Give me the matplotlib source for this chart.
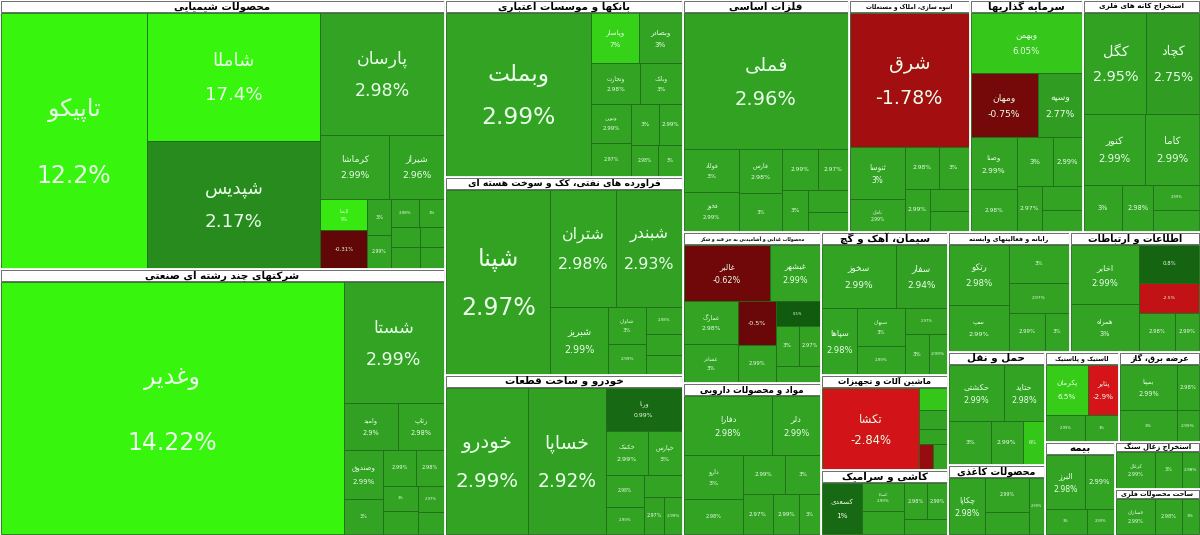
import matplotlib
matplotlib.use("Agg")
import matplotlib.pyplot as plt
from matplotlib.patches import Rectangle
import numpy as np

# ---- data -------------------------------------------------------------
sector_names = [
    "شرکتهای چند رشته ای صنعتی", "محصولات شیمیایی", "بانکها و موسسات اعتباری",
    "فراورده های نفتی، کک و سوخت هسته ای", "خودرو و ساخت قطعات", "فلزات اساسی",
    "انبوه سازی، املاک و مستغلات", "سرمایه گذاریها", "استخراج کانه های فلزی",
    "محصولات غذایی و آشامیدنی به جز قند و شکر", "مواد و محصولات دارویی",
    "سیمان، آهک و گچ", "ماشین آلات و تجهیزات", "کاشی و سرامیک",
    "رایانه و فعالیتهای وابسته", "اطلاعات و ارتباطات", "حمل و نقل",
    "محصولات کاغذی", "لاستیک و پلاستیک", "عرضه برق، گاز", "بیمه",
    "استخراج زغال سنگ", "ساخت محصولات فلزی",
]

stock_names = [
    ["وغدیر", "شستا", "وامید", "رتاپ", "وصندوق", "", "", "", "", "", "", ""],
    ["تاپیکو", "شاملا", "شپدیس", "پارسان", "کرماشا", "شیراز", "لابسا", "",
     "", "", "", "", "", "", "", ""],
    ["وبملت", "وپاسار", "وبصادر", "وتجارت", "وبانک", "ونوین", "", "", "", "", ""],
    ["شپنا", "شتران", "شبندر", "شبریز", "شاوان", "", "", "", ""],
    ["خودرو", "خساپا", "ورنا", "خکمک", "خپارس", "", "", "", "", ""],
    ["فملی", "فولاد", "فخوز", "فارس", "", "", "", "", "", ""],
    ["شرق", "ثنوسا", "ثامان", "", "", "", "", ""],
    ["وبهمن", "ومهان", "وسپه", "وصنا", "", "", "", "", "", ""],
    ["کگل", "کچاد", "کنور", "کاما", "", "", "", ""],
    ["غالبر", "غبشهر", "غمارگ", "غشاذر", "", "", "", "", "", ""],
    ["دفارا", "دلر", "دارو", "", "", "", "", "", ""],
    ["سخوز", "سفار", "سپاها", "سبهان", "", "", "", ""],
    ["تکشا", "", "", "", "", ""],
    ["کسعدی", "کساپا", "", "", "", ""],
    ["رتکو", "سپ", "", "", "", ""],
    ["اخابر", "همراه", "", "", "", ""],
    ["حکشتی", "حتاید", "", "", ""],
    ["چکاپا", "", "", ""],
    ["پکرمان", "پتایر", "", ""],
    ["بمپنا", "", "", ""],
    ["البرز", "", "", ""],
    ["کزغال", "", ""],
    ["فسازان", "", ""],
]

stock_sizes = [
    [88000, 12400, 2600, 2200, 2000, 1400, 1200, 1000, 900, 800, 700, 600],
    [38000, 22500, 22500, 15300, 4500, 3600, 1500, 1800, 900, 800, 800, 700,
     600, 600, 500, 500],
    [25000, 2500, 2300, 2100, 1800, 1600, 1400, 1200, 1000, 900, 800],
    [20000, 8000, 8000, 4000, 1500, 1200, 1000, 800, 700],
    [12800, 12000, 3500, 2000, 1600, 1300, 1100, 900, 800, 700],
    [23000, 2500, 2200, 2000, 1700, 1500, 1300, 1100, 900, 800],
    [16500, 3000, 1800, 1500, 1300, 1100, 900, 800],
    [7000, 4500, 3000, 2500, 2000, 1800, 1500, 1200, 1000, 900],
    [6500, 5500, 4500, 4000, 1800, 1500, 1200, 1000],
    [5200, 3000, 2500, 2200, 1800, 1500, 1200, 1000, 900, 800],
    [5500, 3000, 2800, 2200, 1800, 1500, 1300, 1100, 900],
    [5000, 3500, 2500, 2000, 1500, 1200, 1000, 800],
    [9000, 700, 600, 500, 400, 400],
    [2500, 1500, 1200, 1000, 900, 800],
    [4000, 3000, 2500, 2000, 1500, 1000],
    [4500, 3500, 2500, 2000, 1500, 1000],
    [3500, 2500, 2000, 1500, 1000],
    [2500, 1800, 1200, 1000],
    [2500, 1800, 1200, 1000],
    [3000, 2000, 1200, 800],
    [2500, 1800, 1200, 800],
    [1800, 1200, 800],
    [1800, 1200, 800],
]

stock_changes = [
    [14.22, 2.99, 2.9, 2.98, 2.99, 3.0, 2.99, 2.98, 3.0, 2.99, 2.97, 3.0],
    [12.2, 17.4, 2.17, 2.98, 2.99, 2.96, 9.0, -0.31, 3.0, 2.99, 2.98, 3.0,
     2.99, 2.97, 3.0, 2.99],
    [2.99, 7.0, 3.0, 2.98, 3.0, 2.99, 2.97, 3.0, 2.99, 2.98, 3.0],
    [2.97, 2.98, 2.93, 2.99, 3.0, 2.99, 2.98, 3.0, 2.99],
    [2.99, 2.92, 0.99, 2.99, 3.0, 2.98, 2.99, 3.0, 2.97, 2.99],
    [2.96, 3.0, 2.99, 2.98, 3.0, 2.99, 2.97, 3.0, 2.99, 2.98],
    [-1.78, 3.0, 2.99, 2.98, 3.0, 2.99, 2.97, 3.0],
    [6.05, -0.75, 2.77, 2.99, 2.98, 3.0, 2.99, 2.97, 3.0, 2.99],
    [2.95, 2.75, 2.99, 2.99, 3.0, 2.98, 2.99, 3.0],
    [-0.62, 2.99, 2.98, 3.0, -0.5, 2.99, 0.5, 3.0, 2.97, 2.99],
    [2.98, 2.99, 3.0, 2.98, 2.99, 3.0, 2.97, 2.99, 3.0],
    [2.99, 2.94, 2.98, 3.0, 2.99, 2.97, 3.0, 2.99],
    [-2.84, 6.0, 2.99, 3.0, -1.5, 2.98],
    [1.0, 2.99, 3.0, 2.98, 2.99, 3.0],
    [2.98, 2.99, 3.0, 2.97, 2.99, 3.0],
    [2.99, 3.0, 0.8, -2.5, 2.98, 2.99],
    [2.99, 2.98, 3.0, 2.99, 6.0],
    [2.98, 2.99, 3.0, 2.99],
    [6.5, -2.9, 2.99, 3.0],
    [2.99, 3.0, 2.98, 2.99],
    [2.98, 2.99, 3.0, 2.99],
    [2.99, 3.0, 2.98],
    [2.99, 2.98, 3.0],
]

# how sectors (by index) are grouped on the map
layout_groups = [
    [1, 0],
    [2, 3, 4],
    [[5, 6, 7, 8], [[9, 10], [11, 12, 13], [14, 15, 16, 17, 18, 19, 20, 21, 22]]],
]

W, H = 1200, 535

# ---- simple Persian shaping (matplotlib has no text shaping) ---------
FORMS = {
    "ا": (0xFE8D, 0xFE8E, None, None), "آ": (0xFE81, 0xFE82, None, None),
    "ب": (0xFE8F, 0xFE90, 0xFE91, 0xFE92), "پ": (0xFB56, 0xFB57, 0xFB58, 0xFB59),
    "ت": (0xFE95, 0xFE96, 0xFE97, 0xFE98), "ث": (0xFE99, 0xFE9A, 0xFE9B, 0xFE9C),
    "ج": (0xFE9D, 0xFE9E, 0xFE9F, 0xFEA0), "چ": (0xFB7A, 0xFB7B, 0xFB7C, 0xFB7D),
    "ح": (0xFEA1, 0xFEA2, 0xFEA3, 0xFEA4), "خ": (0xFEA5, 0xFEA6, 0xFEA7, 0xFEA8),
    "د": (0xFEA9, 0xFEAA, None, None), "ذ": (0xFEAB, 0xFEAC, None, None),
    "ر": (0xFEAD, 0xFEAE, None, None), "ز": (0xFEAF, 0xFEB0, None, None),
    "ژ": (0xFB8A, 0xFB8B, None, None),
    "س": (0xFEB1, 0xFEB2, 0xFEB3, 0xFEB4), "ش": (0xFEB5, 0xFEB6, 0xFEB7, 0xFEB8),
    "ص": (0xFEB9, 0xFEBA, 0xFEBB, 0xFEBC), "ض": (0xFEBD, 0xFEBE, 0xFEBF, 0xFEC0),
    "ط": (0xFEC1, 0xFEC2, 0xFEC3, 0xFEC4), "ظ": (0xFEC5, 0xFEC6, 0xFEC7, 0xFEC8),
    "ع": (0xFEC9, 0xFECA, 0xFECB, 0xFECC), "غ": (0xFECD, 0xFECE, 0xFECF, 0xFED0),
    "ف": (0xFED1, 0xFED2, 0xFED3, 0xFED4), "ق": (0xFED5, 0xFED6, 0xFED7, 0xFED8),
    "ک": (0xFB8E, 0xFB8F, 0xFB90, 0xFB91), "گ": (0xFB92, 0xFB93, 0xFB94, 0xFB95),
    "ل": (0xFEDD, 0xFEDE, 0xFEDF, 0xFEE0), "م": (0xFEE1, 0xFEE2, 0xFEE3, 0xFEE4),
    "ن": (0xFEE5, 0xFEE6, 0xFEE7, 0xFEE8), "ه": (0xFEE9, 0xFEEA, 0xFEEB, 0xFEEC),
    "و": (0xFEED, 0xFEEE, None, None), "ی": (0xFBFC, 0xFBFD, 0xFBFE, 0xFBFF),
    "ئ": (0xFE89, 0xFE8A, 0xFE8B, 0xFE8C),
}


def shape(s):
    out = []
    for i, c in enumerate(s):
        if c not in FORMS:
            out.append(c)
            continue
        prev = s[i - 1] if i > 0 else ""
        nxt = s[i + 1] if i + 1 < len(s) else ""
        pj = prev in FORMS and FORMS[prev][2] is not None
        nj = nxt in FORMS and FORMS[c][2] is not None
        f = FORMS[c]
        if pj and nj:
            code = f[3]
        elif pj:
            code = f[1]
        elif nj:
            code = f[2]
        else:
            code = f[0]
        out.append(chr(code))
    return "".join(out)[::-1]


# ---- squarified treemap -----------------------------------------------
def squarify(sizes, x, y, w, h):
    total = sum(sizes)
    vals = [s * w * h / total for s in sizes]
    rects = []

    def worst(row, side):
        s = sum(row)
        return max(max(side * side * r / (s * s), (s * s) / (side * side * r)) for r in row)

    i = 0
    while i < len(vals):
        side = min(w, h)
        row = [vals[i]]
        i += 1
        while i < len(vals) and worst(row + [vals[i]], side) <= worst(row, side):
            row.append(vals[i])
            i += 1
        s = sum(row)
        if w >= h:
            cw = s / h
            cy = y
            for r in row:
                rects.append((x, cy, cw, r / cw))
                cy += r / cw
            x += cw
            w -= cw
        else:
            ch = s / w
            cx = x
            for r in row:
                rects.append((cx, y, r / ch, ch))
                cx += r / ch
            y += ch
            h -= ch
    return rects


def total_of(g):
    if isinstance(g, list):
        return sum(total_of(e) for e in g)
    return sum(stock_sizes[g])


def place(group, x, y, w, h, horizontal, out):
    # slice-and-dice over nested groups; flat lists of sectors at the leaves
    if all(not isinstance(e, list) for e in group) and len(group) > 4:
        for k, r in zip(group, squarify([total_of(e) for e in group], x, y, w, h)):
            out[k] = r
        return
    tot = total_of(group)
    pos = 0.0
    for e in group:
        f = total_of(e) / tot
        if horizontal:
            r = (x + pos * w, y, f * w, h)
        else:
            r = (x, y + pos * h, w, f * h)
        pos += f
        if isinstance(e, list):
            place(e, *r, not horizontal, out)
        else:
            out[e] = r


def colour(c):
    if c < 0:
        t = min(-c / 3.0, 1.0)
        a, b = np.array([0.33, 0.02, 0.02]), np.array([0.85, 0.08, 0.10])
    elif c <= 3.0:
        t = c / 3.0
        a, b = np.array([0.04, 0.30, 0.04]), np.array([0.20, 0.64, 0.14])
    else:
        t = min((c - 3.0) / 7.0, 1.0)
        a, b = np.array([0.20, 0.64, 0.14]), np.array([0.22, 0.96, 0.05])
    return tuple(a + (b - a) * t)


fig = plt.figure(figsize=(12, 5.35), dpi=100)
ax = fig.add_axes([0, 0, 1, 1])
ax.set_xlim(0, W)
ax.set_ylim(H, 0)
ax.axis("off")
fig.patch.set_facecolor("white")

srects = {}
place(layout_groups, 0, 0, W, H, True, srects)

for k, (sx, sy, sw, sh) in srects.items():
    hh = min(12, sh * 0.2)
    ax.add_patch(Rectangle((sx, sy), sw, sh, facecolor="white", edgecolor="white", lw=2))
    ax.add_patch(Rectangle((sx + 1, sy + 1), sw - 2, hh - 1, facecolor="white",
                           edgecolor="#333333", lw=0.5))
    fs = min(7.5, max(3.0, (sw - 6) / max(len(sector_names[k]), 1) * 1.0))
    ax.text(sx + sw / 2, sy + hh / 2 + 0.5, shape(sector_names[k]), ha="center",
            va="center", fontsize=fs, fontweight="bold", color="black", clip_on=True)
    inner = squarify(stock_sizes[k], sx + 1, sy + hh + 1, sw - 2, sh - hh - 2)
    for name, ch, (x, y, w, h) in zip(stock_names[k], stock_changes[k], inner):
        ax.add_patch(Rectangle((x, y), w, h, facecolor=colour(ch),
                               edgecolor="#1f6b1a", lw=0.6))
        n = max(len(name), 6)
        fpt = min(w / (n * 0.9), h * 0.11, 24) * 0.72 * 1.3
        fpt = min(fpt, 17)
        if fpt < 2.5:
            continue
        pct = f"{ch:g}%"
        if name:
            ax.text(x + w / 2, y + h * 0.38, shape(name), ha="center", va="center",
                    fontsize=fpt, color="#eaffea")
            ax.text(x + w / 2, y + h * 0.64, pct, ha="center", va="center",
                    fontsize=fpt, color="#eaffea")
        else:
            ax.text(x + w / 2, y + h * 0.5, pct, ha="center", va="center",
                    fontsize=fpt, color="#eaffea")

fig.savefig("out.png", dpi=100, facecolor="white")
